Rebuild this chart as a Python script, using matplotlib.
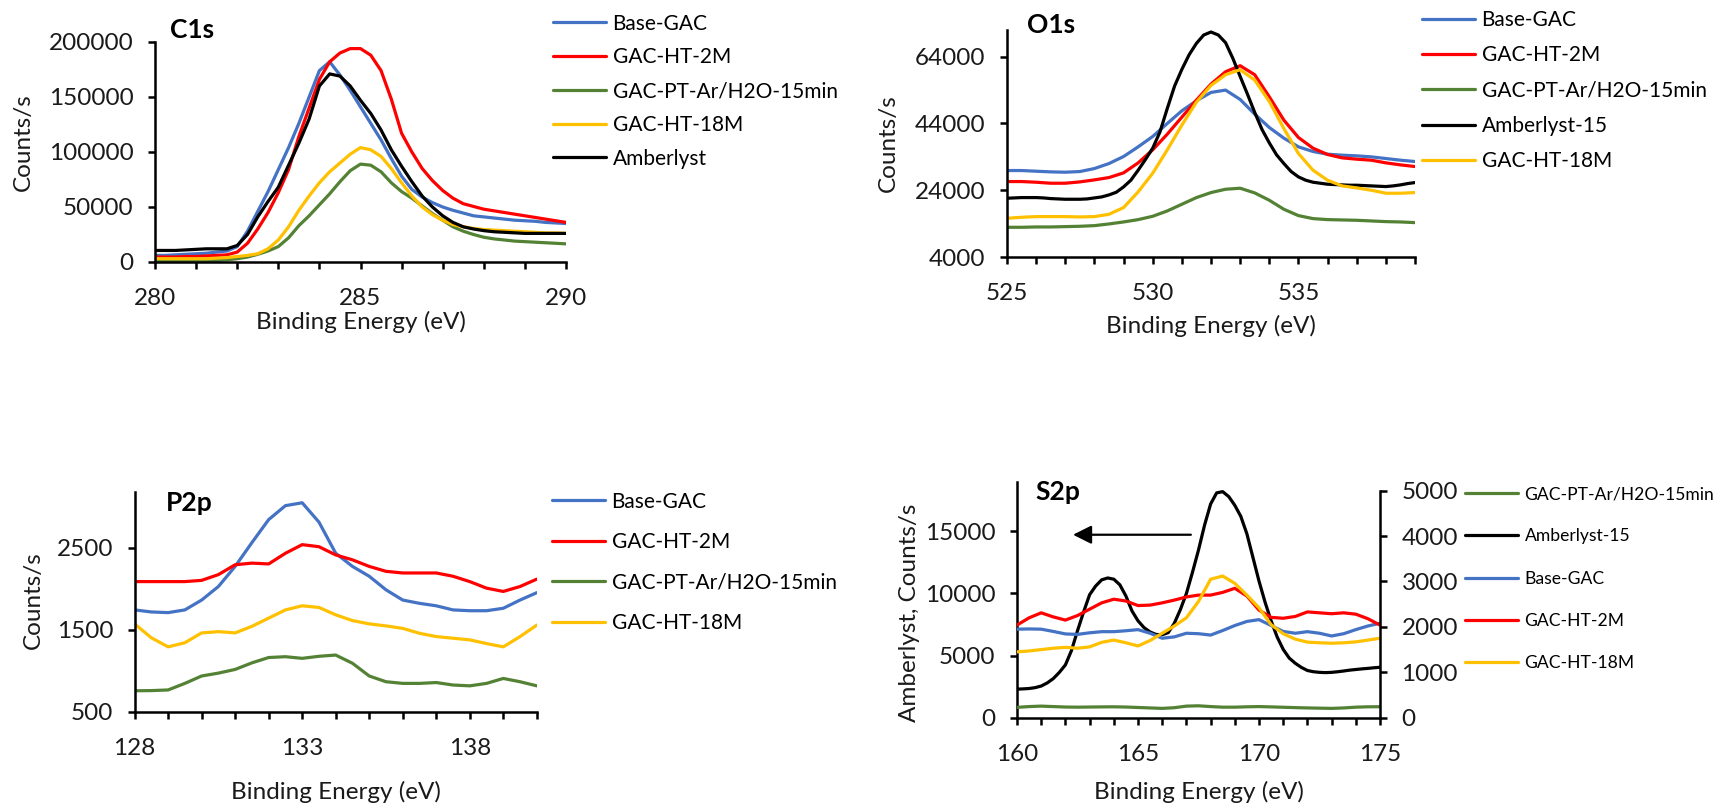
import numpy as np
import matplotlib
matplotlib.use('Agg')
import matplotlib.pyplot as plt

plt.rcParams['font.family'] = ['Lato', 'DejaVu Sans']
plt.rcParams['lines.solid_joinstyle'] = 'round'
plt.rcParams['lines.solid_capstyle'] = 'round'

W, H = 1725, 809

BLUE, RED, GREEN, YELLOW, BLACK = '#4472C4', '#FF0000', '#548235', '#FFC000', '#000000'

# ---- C1s (counts/s, thousands) ----
c1s_be = np.arange(280, 290.01, 0.25)
c1s_base = np.array([6, 6, 6.5, 7, 7.5, 8, 9, 10,
                     14, 28, 46, 64, 84, 104, 126, 150,
                     174, 182, 170, 156, 141, 126, 111, 94,
                     78, 66, 59, 54, 50, 47, 44.5, 42,
                     41, 40, 39, 38, 37.5, 37, 36, 35.5, 35]) * 1000
c1s_ht2 = np.array([4.5, 4.5, 4.5, 5, 5, 5.5, 6, 6.5,
                    9, 17, 30, 45, 63, 84, 114, 140,
                    166, 182, 190, 194, 194, 188, 174, 148,
                    117, 100, 85, 74, 65, 58, 53, 50.5,
                    48, 46.5, 45, 43.5, 42, 40.5, 39, 37.5, 36]) * 1000
c1s_pt = np.array([1.5, 1.5, 1.5, 1.5, 1.5, 1.5, 1.5, 2,
                   3, 4.5, 7, 10, 14, 22, 33, 42,
                   52, 62, 73, 83, 89, 88, 82, 72,
                   64, 58, 51, 44, 38, 32, 28, 25,
                   22.5, 21, 20, 19, 18.5, 18, 17.5, 17, 16.5]) * 1000
c1s_ht18 = np.array([3, 3, 3, 3, 3, 3, 3.5, 4,
                     5, 6, 7.5, 12, 20, 32, 47, 60,
                     72, 82, 90, 98, 104, 102, 96, 85,
                     72, 60, 50, 43, 38, 34, 32, 30.5,
                     29.5, 29, 28.5, 28, 27.5, 27, 26.5, 26.5, 26]) * 1000
c1s_amb = np.array([10.5, 10.5, 10.5, 11, 11.5, 12, 12, 12,
                    15, 25, 41, 55, 68, 88, 108, 130,
                    160, 171, 169, 160, 147, 135, 120, 102,
                    87, 73, 60, 50, 42, 36, 32, 30,
                    28.5, 27.5, 27, 26.5, 26, 26, 26, 26, 26]) * 1000

# ---- O1s (counts/s, thousands) ----
o1s_be = np.arange(525, 539.01, 0.5)
o1s_base = np.array([29.9, 29.9, 29.7, 29.5, 29.4, 29.6, 30.5, 32, 34.1, 37, 40.1, 44, 47.8, 50.8, 53.3,
                     54, 51.2, 46.8, 42.8, 39.6, 37, 35.6, 34.8, 34.5, 34.3, 34, 33.5, 33, 32.6]) * 1000
o1s_ht2 = np.array([26.6, 26.6, 26.4, 26.1, 26.1, 26.5, 27.1, 27.8, 29.2, 32.2, 36.1, 40.8, 45.9, 51, 55.8,
                    59.5, 61.3, 58.6, 52, 45, 39.8, 36.6, 34.7, 33.7, 33.3, 33, 32.2, 31.6, 31.1]) * 1000
o1s_pt = np.array([12.9, 12.9, 13, 13, 13.1, 13.2, 13.4, 13.9, 14.5, 15.2, 16.2, 17.8, 19.8, 21.8, 23.3,
                   24.3, 24.6, 23.2, 21, 18.3, 16.4, 15.5, 15.2, 15.1, 15, 14.8, 14.6, 14.5, 14.3]) * 1000
o1s_ht18 = np.array([15.6, 15.9, 16.1, 16.1, 16.1, 16, 16.1, 16.8, 18.8, 23.5, 29.1, 36.1, 43.5, 50.4, 55.4,
                     58.6, 60.1, 57, 50.6, 42.5, 35, 30, 27, 25.3, 24.7, 24, 23.1, 23.1, 23.3]) * 1000
# Amberlyst has the sharpest peak, so it is read on a finer step
o1s_be_amb = np.arange(525, 539.01, 0.25)
o1s_amb = np.array([21.6, 21.7, 21.8, 21.8, 21.8, 21.7, 21.5, 21.4, 21.3, 21.3, 21.3, 21.4,
                    21.7, 22.0, 22.6, 23.4, 25, 27, 30, 33.2, 36.6, 41.5, 48.5, 55.2,
                    60.2, 64.6, 68, 70.5, 71.4, 70.5, 68.2, 63.5, 58.1, 52.8, 47.3, 42.2,
                    38.2, 34.6, 32, 29.6, 28, 27, 26.4, 26.1, 25.8, 25.7, 25.6, 25.5,
                    25.5, 25.4, 25.3, 25.2, 25.1, 25.3, 25.6, 26, 26.3]) * 1000

# ---- P2p ----
p2p_be = np.arange(128, 140.01, 0.5)
p2p_base = [1740, 1715, 1707, 1740, 1860, 2025, 2270, 2560, 2840, 3010, 3045, 2810, 2430,
            2270, 2150, 1985, 1860, 1820, 1790, 1740, 1730, 1730, 1760, 1860, 1950]
p2p_ht2 = [2085, 2085, 2085, 2085, 2100, 2170, 2290, 2310, 2300, 2430, 2535, 2510, 2410,
           2350, 2270, 2210, 2190, 2190, 2190, 2150, 2085, 2005, 1965, 2025, 2115]
p2p_pt = [755, 757, 765, 845, 935, 970, 1015, 1095, 1160, 1170, 1150, 1175, 1190,
          1090, 935, 865, 845, 845, 855, 825, 815, 845, 905, 865, 815]
p2p_ht18 = [1570, 1400, 1290, 1340, 1460, 1475, 1460, 1540, 1640, 1740, 1790, 1770, 1680,
            1610, 1570, 1545, 1515, 1455, 1415, 1395, 1375, 1330, 1290, 1415, 1555]

# ---- S2p (Amberlyst on the left axis, the rest on the right) ----
s2p_be = np.arange(160, 175.01, 0.5)
s2p_pt = [228, 245, 255, 245, 235, 232, 235, 238, 240, 235, 225, 215, 205, 220, 255,
          262, 245, 232, 232, 240, 245, 238, 230, 222, 215, 210, 205, 215, 232, 240, 242]
s2p_base = [1950, 1955, 1950, 1900, 1845, 1835, 1870, 1895, 1895, 1915, 1940, 1860, 1750, 1780, 1860,
            1850, 1820, 1920, 2030, 2120, 2160, 2030, 1900, 1860, 1895, 1860, 1800, 1850, 1940, 2020, 2080]
s2p_ht2 = [2040, 2200, 2310, 2220, 2150, 2250, 2390, 2530, 2610, 2570, 2470, 2480, 2530, 2590, 2660,
           2700, 2700, 2760, 2850, 2680, 2370, 2210, 2190, 2230, 2330, 2310, 2290, 2310, 2280, 2180, 2040]
s2p_ht18 = [1450, 1470, 1500, 1530, 1550, 1530, 1560, 1660, 1710, 1650, 1580, 1700, 1860, 2020, 2200,
            2560, 3050, 3120, 2960, 2700, 2420, 2050, 1850, 1730, 1665, 1650, 1640, 1650, 1670, 1710, 1750]
s2p_be_amb = np.arange(160, 175.01, 0.25)
s2p_amb = [2300, 2320, 2350, 2420, 2550, 2800, 3150, 3650,
           4250, 5400, 7000, 8500, 9900, 10600, 11100, 11250,
           11150, 10700, 9800, 8600, 7800, 7250, 6900, 6700,
           6680, 6850, 7600, 8700, 10000, 11700, 13500, 15500,
           17200, 18100, 18200, 17800, 17100, 16200, 14800, 12900,
           11000, 9300, 7800, 6500, 5500, 4800, 4380, 4050,
           3800, 3700, 3650, 3630, 3650, 3700, 3760, 3830,
           3880, 3930, 3970, 4020, 4060]
s2p_arrow_from = (167.3, 14730)
s2p_arrow_to = (162.2, 14730)

LW = 2.3
FS = 17.5      # tick and axis labels
FS_LEG = 15


def box(l, t, r, b):
    return [l / W, 1 - b / H, (r - l) / W, (b - t) / H]


def style(ax, xlim, xlabels, ylim, yticks, title, title_xy, xlab_y, ylab_xy, ylabel='Counts/s'):
    ax.set_xlim(*xlim)
    ax.set_ylim(*ylim)
    ax.set_xticks(xlabels)
    ax.set_xticks(np.arange(xlim[0], xlim[1] + 0.01, 1), minor=True)
    ax.set_yticks(yticks)
    for s in ['top', 'right']:
        ax.spines[s].set_visible(False)
    for s in ['left', 'bottom']:
        ax.spines[s].set_linewidth(1.8)
    ax.tick_params(which='both', direction='out', length=5, width=1.8, labelsize=FS,
                   labelcolor='#1a1a1a')
    ax.tick_params(axis='x', which='both', pad=14)
    ax.tick_params(axis='y', pad=10.5)
    ax.set_xlabel('Binding Energy (eV)', fontsize=FS, color='#1a1a1a')
    ax.xaxis.set_label_coords(0.5, xlab_y)
    ax.set_ylabel(ylabel, fontsize=FS, color='#1a1a1a')
    ax.yaxis.set_label_coords(*ylab_xy)
    ax.text(title_xy[0], title_xy[1], title, transform=ax.transAxes, fontsize=19,
            fontweight='bold', va='center', ha='left')


def legend(ax, handles, x, y_first, pitch, fs=FS_LEG):
    # x: start of the handle line, y_first: centre of the first row (pixels)
    fs_px = fs * 100 / 72
    row = 0.9 * fs_px
    ax.legend(handles=handles, loc='upper left',
              bbox_to_anchor=(x / W, 1 - (y_first - row / 2) / H),
              bbox_transform=fig.transFigure, frameon=False, fontsize=fs,
              handlelength=38.5 / fs, handletextpad=4.4 / fs, borderpad=0, borderaxespad=0,
              labelspacing=(pitch - row) / fs_px)


fig = plt.figure(figsize=(W / 100, H / 100), dpi=100)

# C1s
ax = fig.add_axes(box(155, 42, 566, 262))
h = [ax.plot(c1s_be, c1s_base, color=BLUE, lw=LW, label='Base-GAC')[0],
     ax.plot(c1s_be, c1s_ht2, color=RED, lw=LW, label='GAC-HT-2M')[0],
     ax.plot(c1s_be, c1s_pt, color=GREEN, lw=LW, label='GAC-PT-Ar/H2O-15min')[0],
     ax.plot(c1s_be, c1s_ht18, color=YELLOW, lw=LW, label='GAC-HT-18M')[0],
     ax.plot(c1s_be, c1s_amb, color=BLACK, lw=LW, label='Amberlyst')[0]]
style(ax, (280, 290), [280, 285, 290], (0, 200000), [0, 50000, 100000, 150000, 200000],
      'C1s', (0.036, 1.055), -0.223, (-0.294, 0.545))
legend(ax, h, 553, 23, 32.5)

# O1s
ax = fig.add_axes(box(1007, 30, 1415, 257))
h = [ax.plot(o1s_be, o1s_base, color=BLUE, lw=LW, label='Base-GAC')[0],
     ax.plot(o1s_be, o1s_ht2, color=RED, lw=LW, label='GAC-HT-2M')[0],
     ax.plot(o1s_be, o1s_pt, color=GREEN, lw=LW, label='GAC-PT-Ar/H2O-15min')[0],
     ax.plot(o1s_be_amb, o1s_amb, color=BLACK, lw=LW, label='Amberlyst-15')[0],
     ax.plot(o1s_be, o1s_ht18, color=YELLOW, lw=LW, label='GAC-HT-18M')[0]]
style(ax, (525, 539), [525, 530, 535], (4000, 72000), [4000, 24000, 44000, 64000],
      'O1s', (0.049, 1.022), -0.256, (-0.265, 0.502))
legend(ax, h, 1422, 19.5, 34)

# P2p
ax = fig.add_axes(box(134.6, 491.7, 536.8, 711.7))
h = [ax.plot(p2p_be, p2p_base, color=BLUE, lw=LW, label='Base-GAC')[0],
     ax.plot(p2p_be, p2p_ht2, color=RED, lw=LW, label='GAC-HT-2M')[0],
     ax.plot(p2p_be, p2p_pt, color=GREEN, lw=LW, label='GAC-PT-Ar/H2O-15min')[0],
     ax.plot(p2p_be, p2p_ht18, color=YELLOW, lw=LW, label='GAC-HT-18M')[0]]
style(ax, (128, 140), [128, 133, 138], (500, 3180), [500, 1500, 2500],
      'P2p', (0.078, 0.949), -0.315, (-0.225, 0.508))
legend(ax, h, 552, 501, 39.3)

# S2p
ax = fig.add_axes(box(1017, 481.7, 1380, 717.7))
ax2 = ax.twinx()
h_pt = ax2.plot(s2p_be, s2p_pt, color=GREEN, lw=LW, label='GAC-PT-Ar/H2O-15min')[0]
h_amb = ax.plot(s2p_be_amb, s2p_amb, color=BLACK, lw=LW, label='Amberlyst-15')[0]
h_base = ax2.plot(s2p_be, s2p_base, color=BLUE, lw=LW, label='Base-GAC')[0]
h_ht2 = ax2.plot(s2p_be, s2p_ht2, color=RED, lw=LW, label='GAC-HT-2M')[0]
h_ht18 = ax2.plot(s2p_be, s2p_ht18, color=YELLOW, lw=LW, label='GAC-HT-18M')[0]
style(ax, (160, 175), [160, 165, 170, 175], (0, 19000), [0, 5000, 10000, 15000],
      'S2p', (0.05, 0.956), -0.268, (-0.267, 0.444), ylabel='Amberlyst, Counts/s')
ax.annotate('', xy=s2p_arrow_to, xytext=s2p_arrow_from,
            arrowprops=dict(arrowstyle='-|>', color='black', lw=1.6, mutation_scale=28))
ax2.set_ylim(0, 5198)
ax2.set_yticks([0, 1000, 2000, 3000, 4000, 5000])
for s in ['top', 'left', 'bottom']:
    ax2.spines[s].set_visible(False)
ax2.spines['right'].set_linewidth(1.8)
ax2.spines['right'].set_bounds(0, 5000)
ax2.tick_params(direction='out', length=5, width=1.8, labelsize=FS, pad=10.5,
                labelcolor='#1a1a1a')
legend(ax2, [h_pt, h_amb, h_base, h_ht2, h_ht18], 1465, 494, 42, fs=12.6)

fig.savefig('out.png', dpi=100)
